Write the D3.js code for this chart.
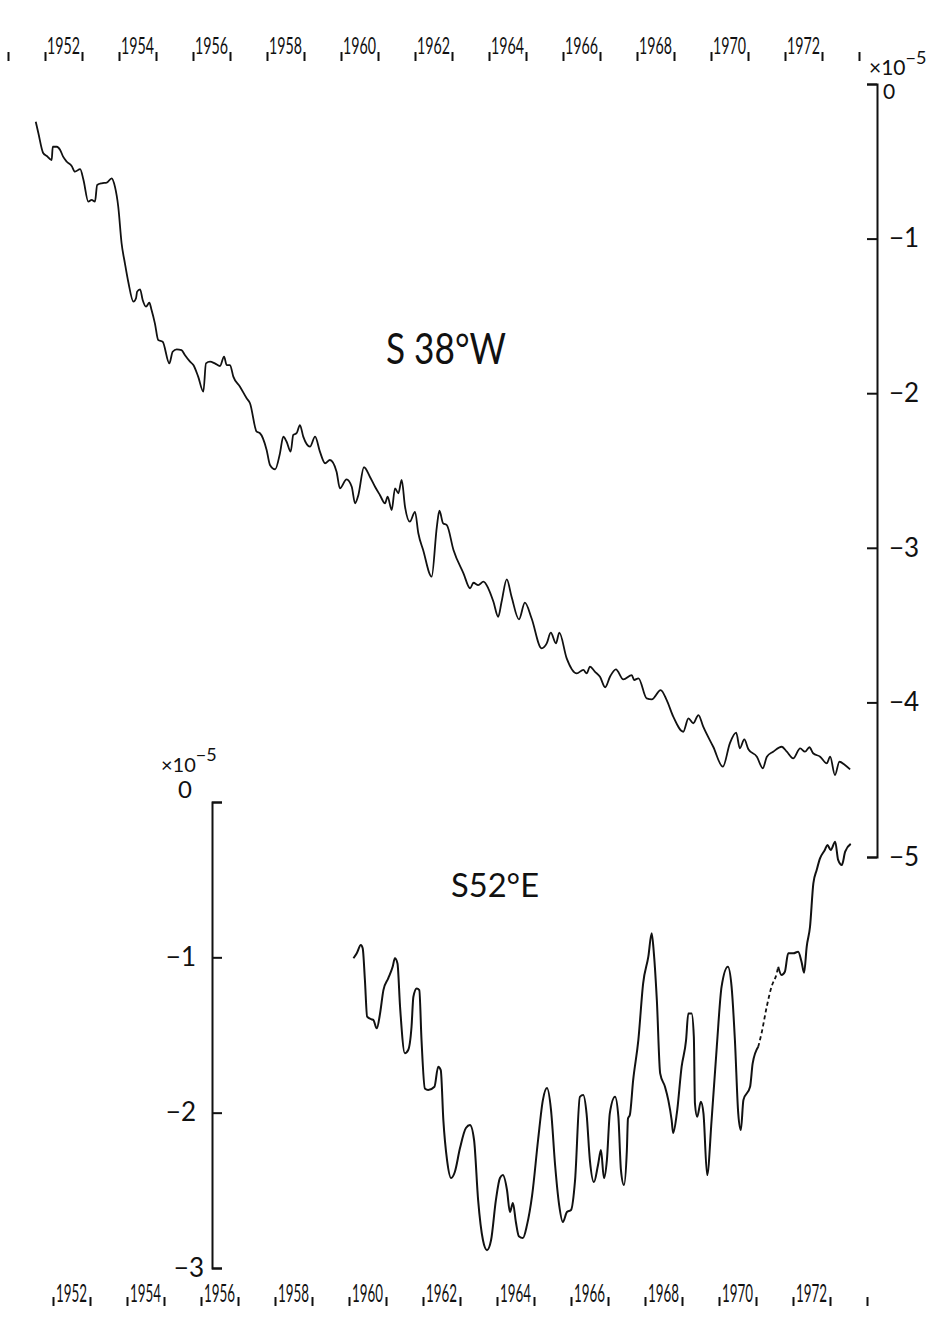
<!DOCTYPE html>
<html>
<head>
<meta charset="utf-8">
<script src="https://cdn.jsdelivr.net/npm/d3@7"></script>
<style>
  body { margin: 0; background: #fff; }
  text { font-family: Lato, "Open Sans", "DejaVu Sans", sans-serif; font-weight: 400; fill: #111; }
</style>
</head>
<body>
<svg id="chart" width="951" height="1317"></svg>
<script>
const width = 951;
const height = 1317;

// Year ticks and labels
const topTickYears = d3.range(1951, 1975);
const bottomTickYears = d3.range(1952, 1975);
const labelYears = d3.range(1952, 1973, 2);

// Value ticks (units of 10^-5)
const topValueTicks = [0, -1, -2, -3, -4, -5];
const bottomValueTicks = [0, -1, -2, -3];

// S 38°W series
const topYears = [
  1951.75, 1951.82, 1951.95, 1952.05, 1952.18, 1952.21, 1952.32, 1952.41, 1952.49, 1952.59,
  1952.72, 1952.81, 1952.95, 1953.04, 1953.17, 1953.26, 1953.35, 1953.41, 1953.53, 1953.67,
  1953.80, 1953.89, 1953.98, 1954.07, 1954.16, 1954.25, 1954.39, 1954.46, 1954.49, 1954.57,
  1954.64, 1954.73, 1954.82, 1954.88, 1954.97, 1955.06, 1955.18, 1955.36, 1955.45, 1955.56,
  1955.69, 1955.78, 1955.92, 1956.01, 1956.14, 1956.28, 1956.35, 1956.46, 1956.59, 1956.73,
  1956.84, 1956.91, 1957.00, 1957.09, 1957.27, 1957.45, 1957.54, 1957.72, 1957.81, 1957.99,
  1958.08, 1958.22, 1958.35, 1958.44, 1958.53, 1958.64, 1958.71, 1958.80, 1958.89, 1958.98,
  1959.16, 1959.30, 1959.43, 1959.57, 1959.70, 1959.88, 1959.97, 1960.15, 1960.29, 1960.38,
  1960.47, 1960.62, 1960.78, 1960.92, 1961.05, 1961.19, 1961.26, 1961.37, 1961.46, 1961.55,
  1961.64, 1961.73, 1961.86, 1962.00, 1962.09, 1962.22, 1962.45, 1962.59, 1962.66, 1962.76,
  1962.86, 1963.04, 1963.31, 1963.49, 1963.58, 1963.71, 1963.85, 1963.98, 1964.12, 1964.25,
  1964.34, 1964.48, 1964.61, 1964.81, 1964.97, 1965.15, 1965.42, 1965.56, 1965.67, 1965.81,
  1965.90, 1966.10, 1966.37, 1966.55, 1966.64, 1966.73, 1966.86, 1967.00, 1967.14, 1967.27,
  1967.43, 1967.63, 1967.86, 1967.92, 1968.04, 1968.26, 1968.40, 1968.64, 1968.80, 1968.98,
  1969.25, 1969.39, 1969.52, 1969.66, 1969.79, 1970.06, 1970.32, 1970.51, 1970.68, 1970.78,
  1970.90, 1971.01, 1971.24, 1971.40, 1971.51, 1971.68, 1971.91, 1972.05, 1972.22, 1972.41,
  1972.54, 1972.66, 1972.76, 1972.95, 1973.13, 1973.22, 1973.35, 1973.47, 1973.62, 1973.76
];
const topValues = [
  -0.244, -0.317, -0.446, -0.466, -0.492, -0.406, -0.406, -0.427, -0.470, -0.503,
  -0.530, -0.567, -0.550, -0.621, -0.761, -0.750, -0.761, -0.653, -0.642, -0.638,
  -0.610, -0.664, -0.794, -1.030, -1.160, -1.279, -1.408, -1.386, -1.343, -1.328,
  -1.397, -1.440, -1.415, -1.462, -1.548, -1.656, -1.667, -1.807, -1.732, -1.716,
  -1.721, -1.753, -1.796, -1.818, -1.893, -1.990, -1.807, -1.796, -1.807, -1.824,
  -1.764, -1.818, -1.818, -1.893, -1.958, -2.033, -2.065, -2.249, -2.259, -2.367,
  -2.464, -2.492, -2.389, -2.281, -2.314, -2.378, -2.270, -2.259, -2.206, -2.281,
  -2.346, -2.281, -2.378, -2.453, -2.432, -2.508, -2.615, -2.557, -2.605, -2.712,
  -2.658, -2.479, -2.540, -2.605, -2.658, -2.712, -2.669, -2.756, -2.615, -2.647,
  -2.561, -2.734, -2.831, -2.767, -2.906, -3.014, -3.187, -2.864, -2.760, -2.842,
  -2.853, -3.014, -3.165, -3.262, -3.226, -3.241, -3.219, -3.262, -3.349, -3.446,
  -3.349, -3.204, -3.316, -3.463, -3.355, -3.456, -3.650, -3.618, -3.549, -3.618,
  -3.549, -3.715, -3.812, -3.790, -3.812, -3.769, -3.801, -3.834, -3.902, -3.834,
  -3.786, -3.851, -3.823, -3.855, -3.844, -3.974, -3.980, -3.920, -3.984, -4.092,
  -4.190, -4.103, -4.135, -4.082, -4.157, -4.287, -4.416, -4.265, -4.196, -4.297,
  -4.239, -4.303, -4.351, -4.426, -4.351, -4.319, -4.287, -4.319, -4.362, -4.297,
  -4.319, -4.290, -4.329, -4.351, -4.394, -4.351, -4.470, -4.384, -4.405, -4.433
];

// S 52°E series, solid part up to the gap
const bottomYears = [
  1960.12, 1960.21, 1960.32, 1960.37, 1960.43, 1960.49, 1960.61, 1960.66, 1960.75, 1960.84,
  1960.93, 1961.06, 1961.18, 1961.24, 1961.31, 1961.38, 1961.51, 1961.60, 1961.69, 1961.74,
  1961.83, 1961.90, 1961.96, 1962.05, 1962.14, 1962.31, 1962.41, 1962.48, 1962.55, 1962.65,
  1962.76, 1962.86, 1963.00, 1963.16, 1963.27, 1963.38, 1963.49, 1963.62, 1963.73, 1963.84,
  1963.97, 1964.08, 1964.16, 1964.27, 1964.35, 1964.43, 1964.51, 1964.59, 1964.70, 1964.81,
  1964.95, 1965.11, 1965.24, 1965.35, 1965.46, 1965.57, 1965.68, 1965.78, 1965.89, 1966.00,
  1966.11, 1966.24, 1966.33, 1966.42, 1966.51, 1966.62, 1966.73, 1966.81, 1966.89, 1966.97,
  1967.05, 1967.19, 1967.28, 1967.35, 1967.43, 1967.51, 1967.54, 1967.59, 1967.68, 1967.82,
  1967.95, 1968.09, 1968.18, 1968.24, 1968.32, 1968.41, 1968.54, 1968.63, 1968.72, 1968.76,
  1968.86, 1968.99, 1969.11, 1969.17, 1969.26, 1969.32, 1969.35, 1969.41, 1969.51, 1969.58,
  1969.68, 1969.80, 1969.94, 1970.07, 1970.24, 1970.34, 1970.43, 1970.52, 1970.59, 1970.66,
  1970.84, 1970.91, 1971.06
];
const bottomValues = [
  -1.006, -0.974, -0.921, -0.942, -1.146, -1.382, -1.399, -1.404, -1.457, -1.361,
  -1.211, -1.135, -1.061, -1.006, -1.039, -1.318, -1.618, -1.597, -1.447, -1.254,
  -1.200, -1.211, -1.533, -1.844, -1.854, -1.833, -1.704, -1.726, -2.048, -2.305,
  -2.421, -2.382, -2.228, -2.099, -2.080, -2.176, -2.563, -2.820, -2.885, -2.820,
  -2.563, -2.421, -2.402, -2.498, -2.640, -2.582, -2.704, -2.795, -2.807, -2.724,
  -2.531, -2.176, -1.919, -1.842, -1.983, -2.337, -2.595, -2.704, -2.640, -2.627,
  -2.434, -1.898, -1.887, -2.005, -2.305, -2.447, -2.337, -2.241, -2.421, -2.305,
  -2.003, -1.898, -2.026, -2.370, -2.466, -2.241, -2.037, -2.015, -1.790, -1.533,
  -1.167, -0.996, -0.845, -0.974, -1.275, -1.747, -1.833, -1.919, -2.048, -2.131,
  -2.005, -1.704, -1.533, -1.361, -1.361, -1.511, -1.940, -2.026, -1.930, -2.005,
  -2.402, -2.048, -1.576, -1.189, -1.061, -1.189, -1.533, -2.005, -2.112, -1.919,
  -1.833, -1.683, -1.576
];
// dashed stretch
const dashYears = [1971.06, 1971.15, 1971.29, 1971.42, 1971.56, 1971.60];
const dashValues = [-1.576, -1.489, -1.318, -1.189, -1.103, -1.061];
// solid part after the dashed stretch
const lateYears = [
  1971.60, 1971.69, 1971.78, 1971.87, 1972.01, 1972.14, 1972.23, 1972.30, 1972.37, 1972.46,
  1972.55, 1972.64, 1972.73, 1972.86, 1972.93, 1973.02, 1973.14, 1973.22, 1973.32, 1973.41, 1973.56
];
const lateValues = [
  -1.061, -1.114, -1.093, -0.974, -0.974, -0.964, -1.028, -1.099, -0.932, -0.803,
  -0.524, -0.438, -0.363, -0.309, -0.277, -0.309, -0.256, -0.373, -0.406, -0.320, -0.270
];

const svg = d3.select("#chart");

// Scales: the two year axes are offset slightly in the drawing.
const xTop = d3.scaleLinear().domain([1952, 1972]).range([45, 785]);
const xBottom = d3.scaleLinear().domain([1952, 1972]).range([53, 793]);
const yTop = d3.scaleLinear().domain([0, -5]).range([84, 857]);
const yBottom = d3.scaleLinear().domain([0, -3]).range([802, 1268]);

const zip = (xs, ys) => xs.map((x, i) => [x, ys[i]]);
const minusFormat = d => (d === 0 ? "0" : "\u2212" + Math.abs(d));

// Top year axis (ticks only, labels sit between ticks)
const topAxis = svg.append("g")
  .attr("transform", "translate(0, 52)")
  .call(d3.axisBottom(xTop).tickValues(topTickYears).tickSize(9).tickFormat(""));
topAxis.select(".domain").remove();
topAxis.selectAll(".tick line").attr("stroke", "#111").attr("stroke-width", 2);

svg.append("g")
  .selectAll("text")
  .data(labelYears)
  .join("text")
  .attr("x", d => xTop(d) + 2)
  .attr("y", 54)
  .attr("font-size", 23)
  .attr("textLength", d => xTop(d + 1) - xTop(d) - 4)
  .attr("lengthAdjust", "spacingAndGlyphs")
  .text(d => d);

// Bottom year axis
const bottomAxis = svg.append("g")
  .attr("transform", "translate(0, 1297)")
  .call(d3.axisBottom(xBottom).tickValues(bottomTickYears).tickSize(9).tickFormat(""));
bottomAxis.select(".domain").remove();
bottomAxis.selectAll(".tick line").attr("stroke", "#111").attr("stroke-width", 2);

svg.append("g")
  .selectAll("text")
  .data(labelYears)
  .join("text")
  .attr("x", d => xBottom(d) + 3)
  .attr("y", 1302)
  .attr("font-size", 25)
  .attr("textLength", d => xBottom(d + 1) - xBottom(d) - 6)
  .attr("lengthAdjust", "spacingAndGlyphs")
  .text(d => d);

// Right value axis for S 38°W
const rightAxis = svg.append("g")
  .attr("transform", "translate(877, 0)")
  .call(
    d3.axisRight(yTop)
      .tickValues(topValueTicks)
      .tickSize(-10)
      .tickSizeOuter(-10)
      .tickPadding(12)
      .tickFormat(minusFormat)
  );
rightAxis.selectAll("path, line").attr("stroke", "#111").attr("stroke-width", 2);
rightAxis.selectAll("text").attr("font-size", 26).attr("font-family", null).attr("fill", "#111");
rightAxis.selectAll(".tick").filter(d => d === 0).select("text")
  .attr("x", 6).attr("dy", "0.7em").attr("font-size", 21);

svg.append("text")
  .attr("x", 869)
  .attr("y", 75)
  .attr("font-size", 21)
  .text("\u00d710")
  .append("tspan")
  .attr("dy", -11)
  .attr("font-size", 18)
  .text("\u22125");

// Left value axis for S 52°E
const leftAxis = svg.append("g")
  .attr("transform", "translate(212, 0)")
  .call(
    d3.axisLeft(yBottom)
      .tickValues(bottomValueTicks)
      .tickSize(-10)
      .tickSizeOuter(-10)
      .tickPadding(16)
      .tickFormat(minusFormat)
  );
leftAxis.selectAll("path, line").attr("stroke", "#111").attr("stroke-width", 2);
leftAxis.selectAll("text").attr("font-size", 26).attr("font-family", null).attr("fill", "#111");
leftAxis.selectAll(".tick").filter(d => d === 0).select("text")
  .attr("dy", "-0.2em").attr("x", -20).attr("font-size", 24);
leftAxis.selectAll(".tick").filter(d => d === -3).select("text").attr("x", -8);

svg.append("text")
  .attr("x", 161)
  .attr("y", 772)
  .attr("font-size", 20)
  .text("\u00d710")
  .append("tspan")
  .attr("dy", -11)
  .attr("font-size", 18)
  .text("\u22125");

// Series titles
svg.append("text")
  .attr("x", 386)
  .attr("y", 364)
  .attr("font-size", 42)
  .attr("font-weight", 300)
  .attr("textLength", 120)
  .attr("lengthAdjust", "spacingAndGlyphs")
  .text("S 38\u00b0W");

svg.append("text")
  .attr("x", 451)
  .attr("y", 897)
  .attr("font-size", 33)
  .attr("font-weight", 300)
  .attr("textLength", 88)
  .attr("lengthAdjust", "spacingAndGlyphs")
  .text("S52\u00b0E");

// Curves
const topLine = d3.line().x(d => xTop(d[0])).y(d => yTop(d[1])).curve(d3.curveMonotoneX);
const bottomLine = d3.line().x(d => xBottom(d[0])).y(d => yBottom(d[1])).curve(d3.curveMonotoneX);

svg.append("path")
  .datum(zip(topYears, topValues))
  .attr("d", topLine)
  .attr("fill", "none")
  .attr("stroke", "#111")
  .attr("stroke-width", 1.8)
  .attr("stroke-linejoin", "round");

svg.append("path")
  .datum(zip(bottomYears, bottomValues))
  .attr("d", bottomLine)
  .attr("fill", "none")
  .attr("stroke", "#111")
  .attr("stroke-width", 2)
  .attr("stroke-linejoin", "round");

svg.append("path")
  .datum(zip(dashYears, dashValues))
  .attr("d", bottomLine)
  .attr("fill", "none")
  .attr("stroke", "#111")
  .attr("stroke-width", 1.8)
  .attr("stroke-dasharray", "4 3");

svg.append("path")
  .datum(zip(lateYears, lateValues))
  .attr("d", bottomLine)
  .attr("fill", "none")
  .attr("stroke", "#111")
  .attr("stroke-width", 2)
  .attr("stroke-linejoin", "round");
</script>
</body>
</html>
